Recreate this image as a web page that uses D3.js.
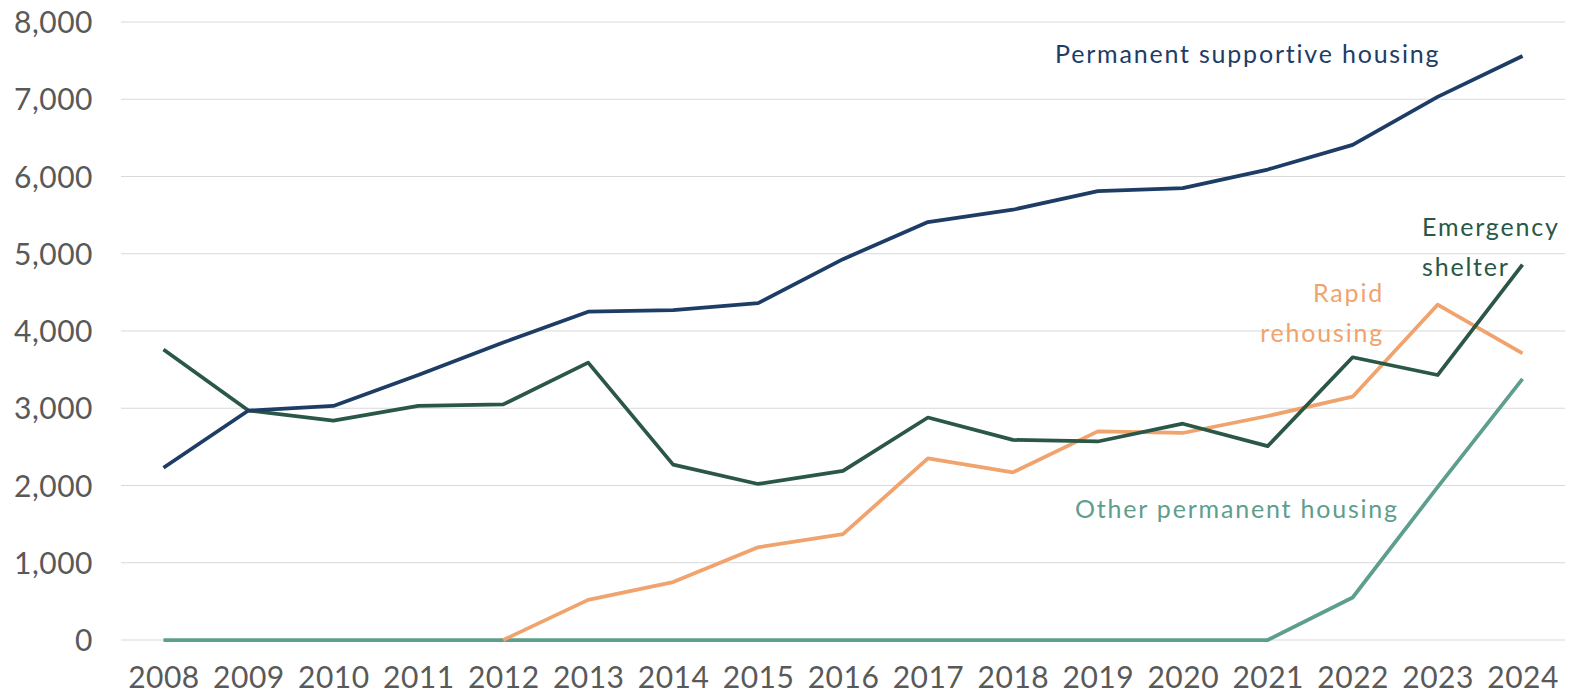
<!DOCTYPE html>
<html>
<head>
<meta charset="utf-8">
<script src="https://cdn.jsdelivr.net/npm/d3@7"></script>
<style>
  body { margin: 0; background: #fff; }
  svg text { font-family: "Lato", "Open Sans", sans-serif; }
</style>
</head>
<body>
<div id="chart"></div>
<script>
const years = ["2008","2009","2010","2011","2012","2013","2014","2015","2016","2017","2018","2019","2020","2021","2022","2023","2024"];
const permanentSupportive = [2230,2970,3030,3430,3850,4250,4270,4360,4930,5410,5570,5810,5850,6090,6410,7030,7560];
const emergencyShelter = [3760,2970,2840,3030,3050,3590,2270,2020,2190,2880,2590,2570,2800,2510,3660,3430,4860];
const rapidRehousing = [null,null,null,null,0,520,750,1200,1370,2350,2170,2700,2680,2900,3150,4340,3710];
const otherPermanent = [0,0,0,0,0,0,0,0,0,0,0,0,0,0,550,1980,3380];
const yTicks = [0,1000,2000,3000,4000,5000,6000,7000,8000];

const width = 1576, height = 695;
const margin = {top: 22, right: 11, bottom: 55, left: 121};

const svg = d3.select("#chart").append("svg")
    .attr("width", width)
    .attr("height", height);

const x = d3.scalePoint()
    .domain(years)
    .range([margin.left, width - margin.right])
    .padding(0.5);

const y = d3.scaleLinear()
    .domain([0, 8000])
    .range([640, margin.top]);

// gridlines
svg.append("g")
    .selectAll("line")
    .data(yTicks)
    .enter().append("line")
    .attr("x1", margin.left)
    .attr("x2", width - margin.right)
    .attr("y1", d => y(d))
    .attr("y2", d => y(d))
    .attr("stroke", "#d9d9d9")
    .attr("stroke-width", 1);

// y axis labels
const yAxis = svg.append("g")
    .attr("transform", "translate(" + (margin.left - 28) + ",0)")
    .call(d3.axisLeft(y).tickValues(yTicks).tickSize(0).tickFormat(d3.format(",")));
yAxis.select(".domain").remove();
yAxis.selectAll("text")
    .attr("x", 0)
    .attr("dy", "0.35em")
    .style("font-size", "30px")
    .style("letter-spacing", "0.5px")
    .attr("fill", "#595959");

// x axis labels
const xAxis = svg.append("g")
    .attr("transform", "translate(0,688)")
    .call(d3.axisBottom(x).tickSize(0));
xAxis.select(".domain").remove();
xAxis.selectAll("text")
    .attr("y", 0)
    .attr("dy", 0)
    .style("font-size", "30px")
    .style("letter-spacing", "0.5px")
    .attr("fill", "#595959");

const series = [
    {name: "other", values: otherPermanent, color: "#5e9e8e"},
    {name: "rapid", values: rapidRehousing, color: "#f0a36c"},
    {name: "emergency", values: emergencyShelter, color: "#2b5747"},
    {name: "psh", values: permanentSupportive, color: "#1d3d66"}
];

const line = d3.line()
    .defined(d => d[1] != null)
    .x(d => x(d[0]))
    .y(d => y(d[1]));

svg.append("g")
    .selectAll("path")
    .data(series)
    .enter().append("path")
    .attr("d", s => line(years.map((yr, i) => [yr, s.values[i]])))
    .attr("fill", "none")
    .attr("stroke", s => s.color)
    .attr("stroke-width", 3.75)
    .attr("stroke-linejoin", "round");

// series labels
const labels = [
    {lines: ["Permanent supportive housing"], x: 1055, y: 63, anchor: "start", color: "#1d3d66"},
    {lines: ["Emergency", "shelter"], x: 1422, y: 236, anchor: "start", color: "#2b5747"},
    {lines: ["Rapid", "rehousing"], x: 1384, y: 302, anchor: "end", color: "#f0a36c"},
    {lines: ["Other permanent housing"], x: 1075, y: 518, anchor: "start", color: "#5e9e8e"}
];

labels.forEach(function(l) {
    const t = svg.append("text")
        .attr("x", l.x)
        .attr("y", l.y)
        .attr("text-anchor", l.anchor)
        .attr("fill", l.color)
        .style("font-size", "25px")
        .style("letter-spacing", "1.8px");
    l.lines.forEach(function(s, i) {
        t.append("tspan")
            .attr("x", l.x)
            .attr("dy", i === 0 ? 0 : "1.6em")
            .text(s);
    });
});
</script>
</body>
</html>
